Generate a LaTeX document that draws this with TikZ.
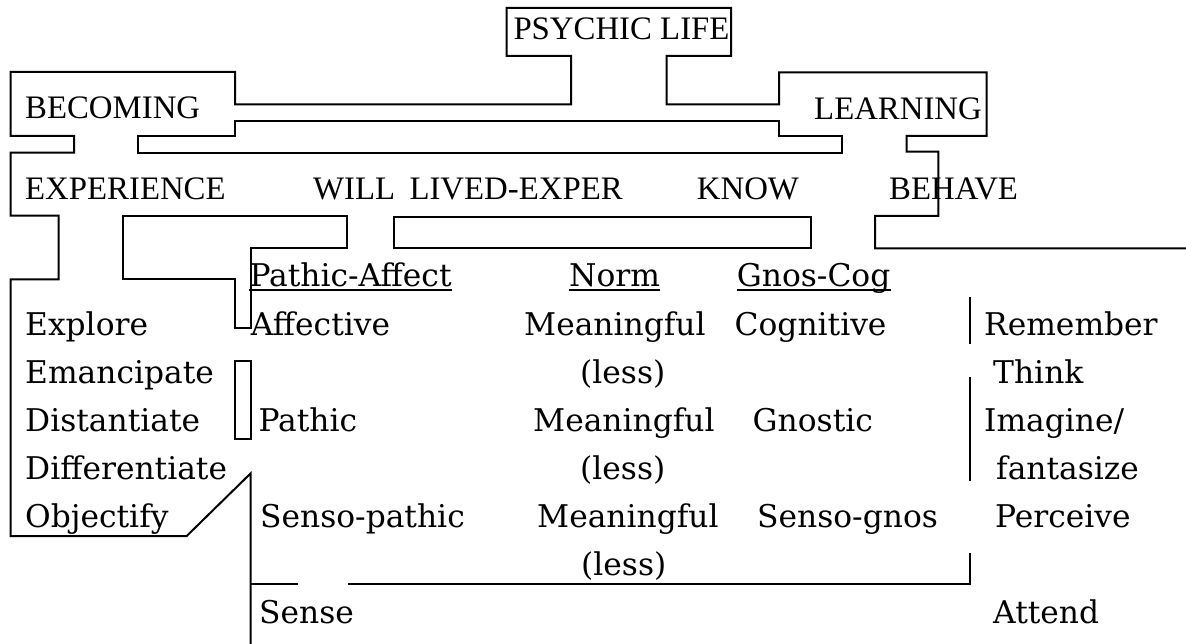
\documentclass[tikz,border=0pt]{standalone}
\usepackage{fontspec}
\setmainfont{Liberation Serif}
\newfontfamily\lowfont{DejaVu Serif}
\usepackage{tikz}
\tikzset{caps/.style={anchor=base west, inner sep=0pt, font=\fontsize{32.8}{40}\selectfont}}
\tikzset{word/.style={anchor=base west, inner sep=0pt, font=\lowfont\fontsize{31.3}{36}\selectfont}}
\tikzset{rule/.style={line width=2pt}}
\tikzset{uline/.style={line width=1.8pt}}

\begin{document}
\begin{tikzpicture}[x=1pt,y=-1pt]
    \useasboundingbox (0,0) rectangle (1186,644);

    \node[caps] (psychic) at (513.3,39.3) {PSYCHIC LIFE};
    \node[caps] (becoming) at (25,119) {BECOMING};
    \node[caps] (learning) at (814,120) {LEARNING};
    \node[caps] (experience) at (25,200) {EXPERIENCE};
    \node[caps] (will) at (313,200) {WILL};
    \node[caps] (lived) at (409.3,200) {LIVED-EXPER};
    \node[caps] (know) at (696.7,200) {KNOW};
    \node[caps] (behave) at (889,200) {BEHAVE};

    \node[word] (pathaff) at (249.3,287) {Pathic-Affect};
    \node[word] (norm) at (569,287) {Norm};
    \node[word] (gnoscog) at (736.7,287) {Gnos-Cog};
    \foreach \n in {pathaff,norm,gnoscog}
      \draw[uline] ([yshift=-3pt]\n.base west) -- ([yshift=-3pt]\n.base east);

    \node[word] (explore) at (25,335) {Explore};
    \node[word] (emancipate) at (25,383) {Emancipate};
    \node[word] (distantiate) at (25,431) {Distantiate};
    \node[word] (differentiate) at (25,479) {Differentiate};
    \node[word] (objectify) at (25,527) {Objectify};

    \node[word] (affective) at (250.7,335) {Affective};
    \node[word] (pathic) at (258.3,431) {Pathic};
    \node[word] (sensopathic) at (260,527) {Senso-pathic};
    \node[word] (sense) at (259,623) {Sense};

    \node[word] (mean1) at (524,335) {Meaningful};
    \node[word] (less1) at (580,383) {(less)};
    \node[word] (mean2) at (533,431) {Meaningful};
    \node[word] (less2) at (580,479) {(less)};
    \node[word] (mean3) at (537,527) {Meaningful};
    \node[word] (less3) at (581,575) {(less)};

    \node[word] (cognitive) at (734.5,335) {Cognitive};
    \node[word] (gnostic) at (752.5,431) {Gnostic};
    \node[word] (sensognos) at (757,527) {Senso-gnos};

    \node[word] (remember) at (984,335) {Remember};
    \node[word] (think) at (993,383) {Think};
    \node[word] (imagine) at (984,431) {Imagine/};
    \node[word] (fantasize) at (996,479) {fantasize};
    \node[word] (perceive) at (995,527) {Perceive};
    \node[word] (attend) at (993,623) {Attend};

    % outlines
    \draw[rule] (250.7,644) -- (250.7,473.3) -- (186.7,536) -- (10.7,536) -- (10.7,279.3)
      -- (58.7,279.3) -- (58.7,215.7) -- (10.7,215.7) -- (10.7,152.7) -- (74,152.7)
      -- (74,136) -- (10.7,136) -- (10.7,72) -- (235,72) -- (235,104.3) -- (571,104.3)
      -- (571,56) -- (506.7,56) -- (506.7,8) -- (731,8) -- (731,56) -- (666.7,56)
      -- (666.7,104.3) -- (779,104.3) -- (779,72.3) -- (986.7,72.3) -- (986.7,136)
      -- (906.7,136) -- (906.7,151.7) -- (938.3,151.7) -- (938.3,216) -- (875,216)
      -- (875,248.3) -- (1186,248.3);
    \draw[rule] (235,120.7) -- (235,136) -- (138,136) -- (138,152.7) -- (842.3,152.7)
      -- (842.3,136) -- (779,136) -- (779,120.7) -- cycle;
    \draw[rule] (123.3,215.7) -- (346.7,215.7) -- (346.7,247.7) -- (250.7,247.7)
      -- (250.7,328.3) -- (235,328.3) -- (235,279.3) -- (123.3,279.3) -- cycle;
    \draw[rule] (394.3,216.7) rectangle (810.7,248.3);
    \draw[rule] (235,361) rectangle (250.7,439.3);
    \draw[rule] (970,297) -- (970,344);
    \draw[rule] (970,377) -- (970,481);
    \draw[rule] (970,553) -- (970,584.3) -- (347.7,584.3);
    \draw[rule] (297.7,584.3) -- (250.7,584.3);
\end{tikzpicture}
\end{document}
